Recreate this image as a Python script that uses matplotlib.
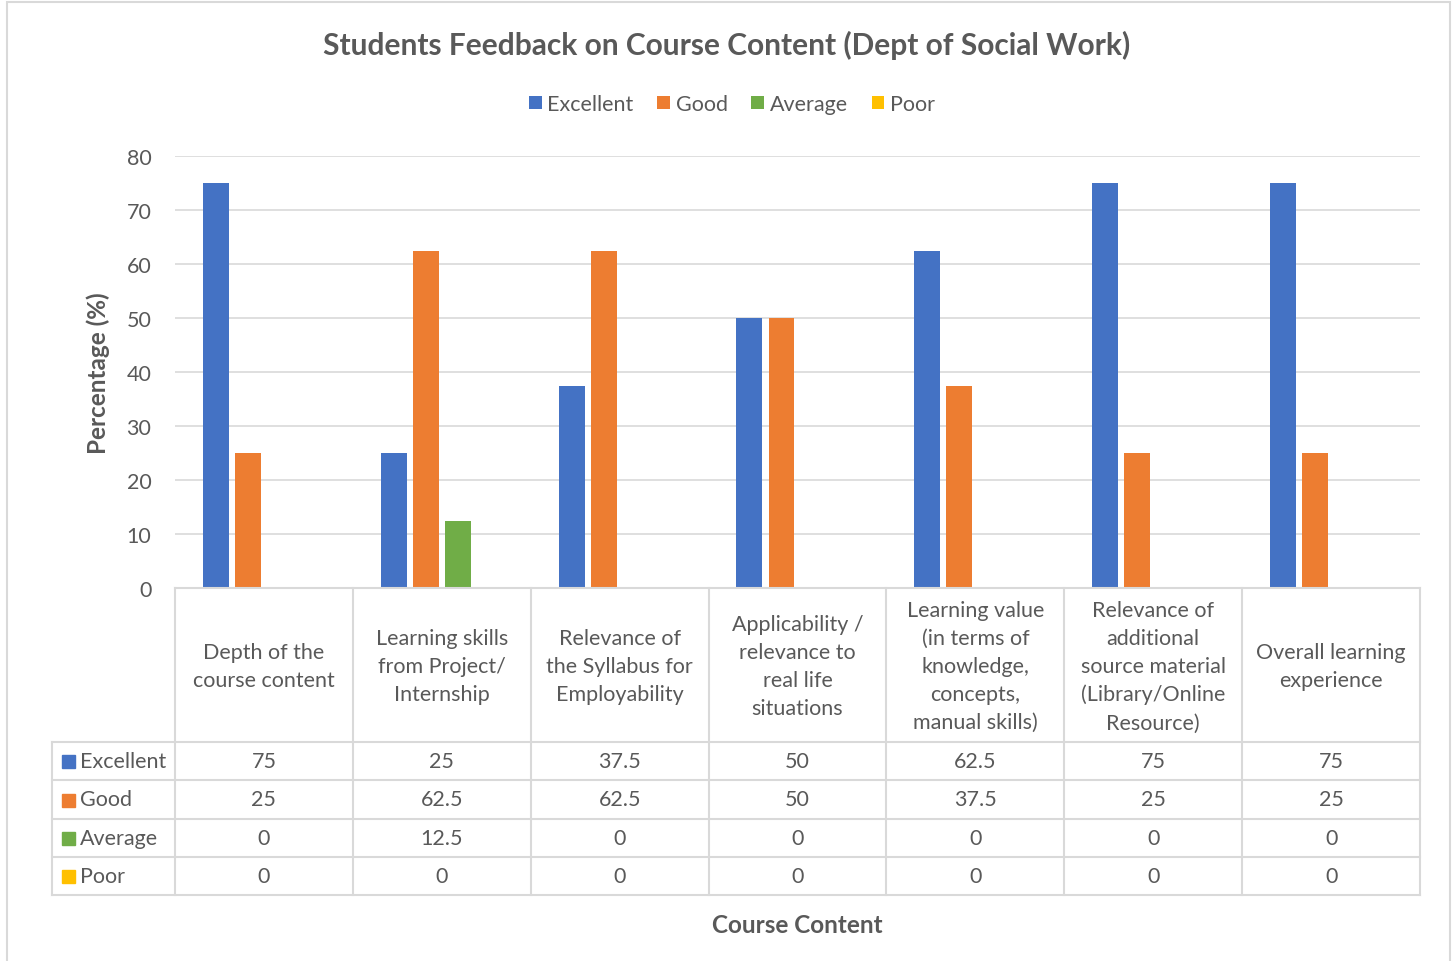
import matplotlib.pyplot as plt
import numpy as np
from matplotlib.patches import Rectangle

plt.rcParams['font.family'] = ['Lato', 'DejaVu Sans']

categories = ['Depth of the\ncourse content',
              'Learning skills\nfrom Project/\nInternship',
              'Relevance of\nthe Syllabus for\nEmployability',
              'Applicability /\nrelevance to\nreal life\nsituations',
              'Learning value\n(in terms of\nknowledge,\nconcepts,\nmanual skills)',
              'Relevance of\nadditional\nsource material\n(Library/Online\nResource)',
              'Overall learning\nexperience']
series = ['Excellent', 'Good', 'Average', 'Poor']
excellent = [75, 25, 37.5, 50, 62.5, 75, 75]
good = [25, 62.5, 62.5, 50, 37.5, 25, 25]
average = [0, 12.5, 0, 0, 0, 0, 0]
poor = [0, 0, 0, 0, 0, 0, 0]
colors = ['#4472C4', '#ED7D31', '#70AD47', '#FFC000']

W, H = 1454, 962
txt = '#595959'
gridc = '#d9d9d9'

fig = plt.figure(figsize=(W / 100, H / 100), dpi=100)

def box(x0, y0, x1, y1):
    return [x0 / W, 1 - y1 / H, (x1 - x0) / W, (y1 - y0) / H]

# outer chart border
fig.patches.append(Rectangle((7 / W, -0.01), (1450 - 7) / W, 1 - 3 / H + 0.01,
                             transform=fig.transFigure, fill=False,
                             edgecolor=gridc, lw=1.5))

ax = fig.add_axes(box(175, 157, 1420, 589))
n = len(categories)
x = np.arange(n)
data = [excellent, good, average, poor]
step = 0.18
bw = 0.146
for i, (name, vals) in enumerate(zip(series, data)):
    ax.bar(x + (i - 1.5) * step, vals, width=bw, color=colors[i], label=name, zorder=3)

ax.set_xlim(-0.5, n - 0.5)
ax.set_ylim(0, 80)
ax.set_yticks(range(0, 81, 10))
ax.yaxis.grid(True, color=gridc, lw=1.2, zorder=0)
ax.set_xticks([])
for s in ax.spines.values():
    s.set_visible(False)
ax.tick_params(axis='y', length=0, labelsize=15.5, labelcolor=txt, pad=17)
ax.set_ylabel('Percentage (%)', fontsize=17.5, fontweight='bold', color=txt, labelpad=12)

fig.text(727 / W, 1 - 45 / H, 'Students Feedback on Course Content (Dept of Social Work)',
         ha='center', va='center', fontsize=21.5, fontweight='bold', color=txt)

leg = fig.legend(loc='center', bbox_to_anchor=(732 / W, 1 - 105 / H), ncol=4, frameon=False,
                 fontsize=15.5, handlelength=0.6, handleheight=0.6, handletextpad=0.25,
                 columnspacing=1.1, labelcolor=txt)

# data table
tab = fig.add_axes(box(52, 589, 1420, 896))
tab.set_xlim(52, 1420)
tab.set_ylim(896, 589)
tab.axis('off')
cw = (1420 - 175) / n
rows_y = [589, 743, 781, 820, 858, 896]
tab.plot([175, 1420], [589, 589], color=gridc, lw=1.5, clip_on=False)
for y in rows_y[1:]:
    tab.plot([52, 1420], [y, y], color=gridc, lw=1.5, clip_on=False)
for k in range(n + 1):
    tab.plot([175 + k * cw] * 2, [589, 896], color=gridc, lw=1.5, clip_on=False)
tab.plot([52, 52], [743, 896], color=gridc, lw=1.5, clip_on=False)

for k, lab in enumerate(categories):
    tab.text(175 + (k + 0.5) * cw, 667, lab, ha='center', va='center',
             fontsize=15.5, color=txt, linespacing=1.5)
for r, (name, vals) in enumerate(zip(series, data)):
    yc = (rows_y[r + 1] + rows_y[r + 2]) / 2
    tab.add_patch(Rectangle((62, yc - 6), 13, 13, color=colors[r], clip_on=False))
    tab.text(80, yc, name, ha='left', va='center', fontsize=15.5, color=txt)
    for k, v in enumerate(vals):
        tab.text(175 + (k + 0.5) * cw, yc, f'{v:g}', ha='center', va='center',
                 fontsize=15.5, color=txt)

fig.text(797 / W, 1 - 926 / H, 'Course Content', ha='center', va='center',
         fontsize=17.5, fontweight='bold', color=txt)

fig.savefig('out.png', dpi=100, facecolor='white')
